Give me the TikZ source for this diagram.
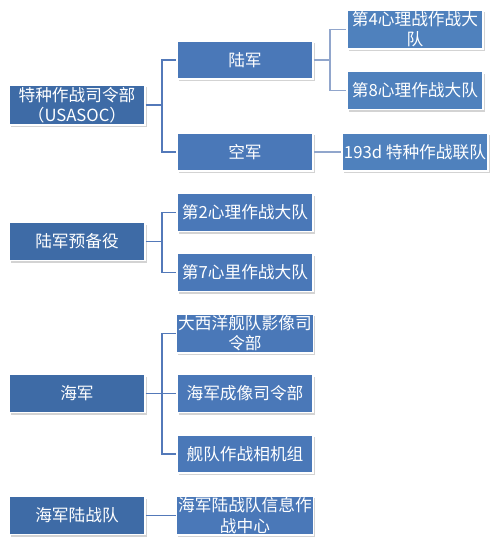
\documentclass[tikz,border=0pt]{standalone}
\usepackage{fontspec}
\setmainfont{Noto Sans CJK SC}
\usetikzlibrary{shadows}
\definecolor{topblue}{HTML}{3E6BA6}
\definecolor{midblue}{HTML}{4A78B8}
\definecolor{lowblue}{HTML}{4F81BD}
\definecolor{linkblue}{HTML}{5379B9}
\definecolor{linkgrey}{HTML}{91A6CC}
\tikzstyle{unitbox} = [
    rectangle,
    minimum width=2.72cm,
    minimum height=0.76cm,
    inner sep=1pt,
    align=center,
    draw=white,
    line width=1pt,
    text=white,
    font=\fontsize{9.5}{11.5}\selectfont,
    drop shadow={shadow xshift=1pt, shadow yshift=-1.2pt, opacity=0.35, fill=gray}
]
\tikzstyle{topbox} = [unitbox, fill=topblue]
\tikzstyle{midbox} = [unitbox, fill=midblue]
\tikzstyle{lowbox} = [unitbox, fill=lowblue]
\tikzstyle{link} = [line width=1.1pt, draw=linkblue]
\tikzstyle{sublink} = [line width=1.1pt, draw=linkgrey]

\begin{document}
\begin{tikzpicture}[x=0.02cm, y=-0.02cm]

\useasboundingbox (0,0) rectangle (500,552);

\node (usasoc) [topbox] at (77,105)
{特种作战司令部\\（USASOC）};

\node (reserve) [topbox] at (77,241.5) {陆军预备役};

\node (navy) [topbox] at (77,393.5) {海军};

\node (marine) [topbox] at (77,515.5) {海军陆战队};

\node (army) [midbox] at (245,60) {陆军};

\node (airforce) [midbox] at (245,152) {空军};

\node (psy2) [midbox] at (245,212.5) {第2心理作战大队};

\node (psy7) [midbox] at (245,272.5) {第7心里作战大队};

\node (atlantic) [midbox] at (245,333.5)
{大西洋舰队影像司\\令部};

\node (imaging) [midbox] at (245,393.5) {海军成像司令部};

\node (camera) [midbox] at (245,454) {舰队作战相机组};

\node (mioc) [midbox] at (245,515.5)
{海军陆战队信息作\\战中心};

\node (psy4) [lowbox] at (415,29.5)
{第4心理战作战大\\队};

\node (psy8) [lowbox] at (415,90.5) {第8心理作战大队};

\node (sow193) [lowbox] at (415,152) {193d 特种作战联队};

\draw [link] (usasoc.east) -- ++(16,0) |- (army.west);
\draw [link] (usasoc.east) -- ++(16,0) |- (airforce.west);
\draw [link] (reserve.east) -- ++(16,0) |- (psy2.west);
\draw [link] (reserve.east) -- ++(16,0) |- (psy7.west);
\draw [link] (navy.east) -- ++(16,0) |- (atlantic.west);
\draw [link] (navy.east) -- (imaging.west);
\draw [link] (navy.east) -- ++(16,0) |- (camera.west);
\draw [link] (marine.east) -- (mioc.west);
\draw [sublink] (army.east) -- ++(16,0) |- (psy4.west);
\draw [sublink] (army.east) -- ++(16,0) |- (psy8.west);
\draw [sublink] (airforce.east) -- (sow193.west);

\end{tikzpicture}
\end{document}
